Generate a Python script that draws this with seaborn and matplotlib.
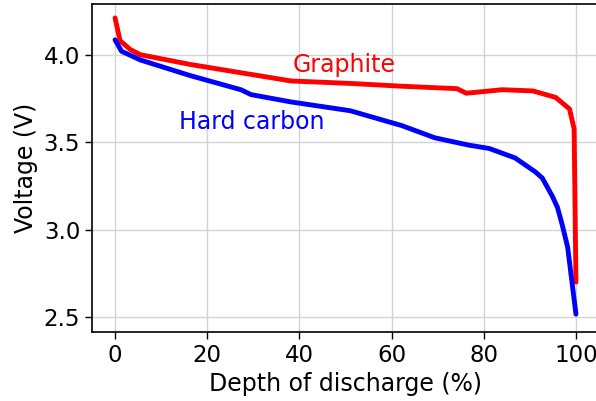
import matplotlib
matplotlib.use("Agg")
import matplotlib.pyplot as plt
import seaborn as sns
import pandas as pd

graphite_x = [0, 1.1, 3.3, 5.5, 16.4, 27.3, 38.2, 51, 62.2, 74.2, 76.2, 84, 90.7, 95.6, 98.6, 99.6, 100]
graphite_v = [4.21, 4.08, 4.03, 4.0, 3.944, 3.897, 3.85, 3.836, 3.82, 3.806, 3.78, 3.80, 3.793, 3.756, 3.69, 3.577, 2.70]
hard_x = [0, 1.4, 5.5, 16.4, 27.3, 29.5, 38.2, 51, 62.2, 69.4, 76.8, 81.2, 86.8, 89, 91.2, 92.7, 94.9, 96, 97, 98.2, 100]
hard_v = [4.085, 4.02, 3.97, 3.88, 3.80, 3.772, 3.73, 3.68, 3.595, 3.525, 3.483, 3.464, 3.41, 3.37, 3.33, 3.295, 3.19, 3.126, 3.03, 2.90, 2.517]

df = pd.concat([
    pd.DataFrame({"x": graphite_x, "v": graphite_v, "s": "Graphite"}),
    pd.DataFrame({"x": hard_x, "v": hard_v, "s": "Hard carbon"}),
])

sns.set_style("ticks")
plt.rcParams['font.family'] = ['DejaVu Sans']
fig = plt.figure(figsize=(5.96, 4.01), dpi=100)
ax = fig.add_axes([92/596, 1 - 332/401, (599 - 92)/596, (332 - 4)/401])
sns.lineplot(data=df, x="x", y="v", hue="s", palette={"Graphite": "#ff0000", "Hard carbon": "#0000ff"},
             linewidth=3.5, ax=ax, legend=False, sort=False, estimator=None)
ax.grid(True, color="#d3d3d3", linewidth=1)
ax.set_xlim(-5, 105)
ax.set_ylim(2.415, 4.29)
ax.set_xticks([0, 20, 40, 60, 80, 100])
ax.set_yticks([2.5, 3.0, 3.5, 4.0])
ax.tick_params(labelsize=16.5, length=5, width=1, colors="black")
ax.set_xlabel("Depth of discharge (%)", fontsize=17, color="black")
ax.set_ylabel("Voltage (V)", fontsize=17, color="black")
for s in ax.spines.values():
    s.set_color("black")
    s.set_linewidth(1.2)
ax.spines['right'].set_visible(False)
ax.text(344/596, 1 - 65/401, "Graphite", color="#ff0000", fontsize=17, ha="center", va="center", transform=fig.transFigure)
ax.text(252/596, 1 - 122/401, "Hard carbon", color="#0000ff", fontsize=17, ha="center", va="center", transform=fig.transFigure)
fig.savefig("out.png", dpi=100)
